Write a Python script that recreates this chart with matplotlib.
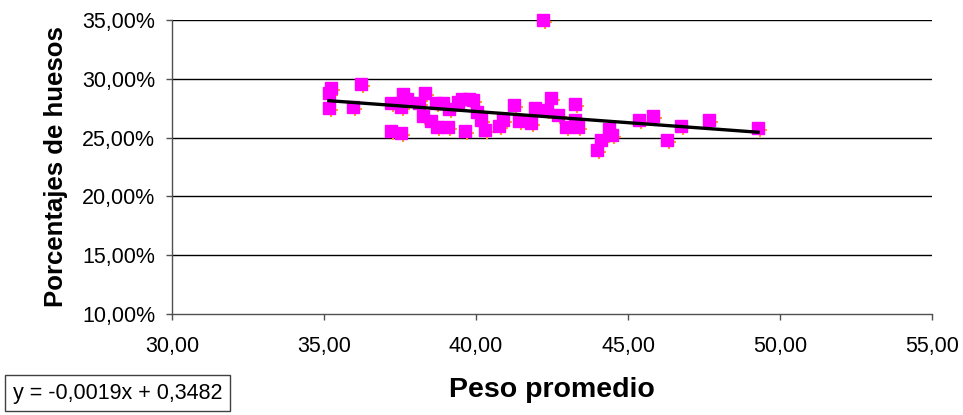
import numpy as np
import matplotlib.pyplot as plt
import matplotlib.transforms as mtransforms
from matplotlib.ticker import FuncFormatter

plt.rcParams['font.family'] = ['Liberation Sans', 'DejaVu Sans']

# peso promedio / porcentaje de huesos
peso = [35.23, 35.16, 35.16, 36.22, 35.95, 37.20, 37.60, 37.73, 37.53, 37.20,
        37.53, 38.32, 38.13, 38.26, 38.52, 38.68, 38.91, 38.72, 39.11, 39.08,
        39.41, 39.54, 39.64, 39.77, 39.90, 40.03, 40.16, 40.30, 40.76, 40.89,
        41.25, 41.41, 41.81, 41.94, 42.34, 42.47, 42.70, 42.96, 43.26, 43.26,
        43.36, 43.98, 44.11, 44.38, 44.47, 45.36, 45.82, 46.28, 46.74, 47.66,
        49.28, 42.20]
huesos = [0.2922, 0.2879, 0.2752, 0.2956, 0.2760, 0.2794, 0.2871, 0.2828, 0.2760, 0.2556,
          0.2539, 0.2879, 0.2794, 0.2684, 0.2641, 0.2794, 0.2794, 0.2590, 0.2743, 0.2590,
          0.2803, 0.2828, 0.2556, 0.2828, 0.2820, 0.2718, 0.2650, 0.2565, 0.2599, 0.2650,
          0.2777, 0.2641, 0.2624, 0.2752, 0.2735, 0.2837, 0.2692, 0.2590, 0.2786, 0.2650,
          0.2590, 0.2395, 0.2480, 0.2573, 0.2522, 0.2650, 0.2684, 0.2480, 0.2599, 0.2650,
          0.2582, 0.3500]

pendiente = -0.0019
ordenada = 0.3482

fig = plt.figure(figsize=(9.63, 4.15), dpi=100)
ax = fig.add_axes([172/963, 1 - 314/415, (932-172)/963, (314-20)/415])

ax.set_xlim(30, 55)
ax.set_ylim(0.10, 0.35)
ax.set_xticks(np.arange(30, 56, 5))
ax.set_yticks(np.arange(0.10, 0.351, 0.05))
ax.xaxis.set_major_formatter(FuncFormatter(lambda v, p: f'{v:.2f}'.replace('.', ',')))
ax.yaxis.set_major_formatter(FuncFormatter(lambda v, p: f'{v*100:.2f}%'.replace('.', ',')))

for g in [0.15, 0.20, 0.25, 0.30, 0.35]:
    ax.axhline(g, color='black', lw=1, zorder=1)

# shadow of markers
sombra = ax.transData + mtransforms.ScaledTranslation(2/100, -2/100, fig.dpi_scale_trans)
ax.plot(peso, huesos, ls='none', marker='+', ms=10, mew=1.5, color='#FFA020',
        transform=sombra, zorder=2, clip_on=False)
ax.plot(peso, huesos, ls='none', marker='s', ms=8.5, color='#FF00FF', mec='#FF00FF',
        zorder=3, clip_on=False)

xt = np.array([min(peso), max(peso)])
ax.plot(xt, pendiente * xt + ordenada, color='black', lw=2.4, zorder=4)

for s in ['top', 'right']:
    ax.spines[s].set_visible(False)
for s in ['left', 'bottom']:
    ax.spines[s].set_color('#505050')
    ax.spines[s].set_linewidth(1)

ax.tick_params(axis='both', direction='out', length=4, width=1, color='#505050',
               labelsize=15.5)
ax.tick_params(axis='y', pad=8)
ax.tick_params(axis='x', pad=12)

ax.set_xlabel('Peso promedio', fontsize=20.5, fontweight='bold', labelpad=14)
ax.set_ylabel('Porcentajes de huesos', fontsize=18.5, fontweight='bold', labelpad=10)

eq = f'y = {pendiente:.4f}x + {ordenada:.4f}'.replace('.', ',')
fig.text(13/963, 1 - 393/415, eq, fontsize=15.5, va='center', ha='left',
         bbox=dict(boxstyle='square,pad=0.35', fc='white', ec='#404040', lw=1))

fig.savefig('out.png', dpi=100)
